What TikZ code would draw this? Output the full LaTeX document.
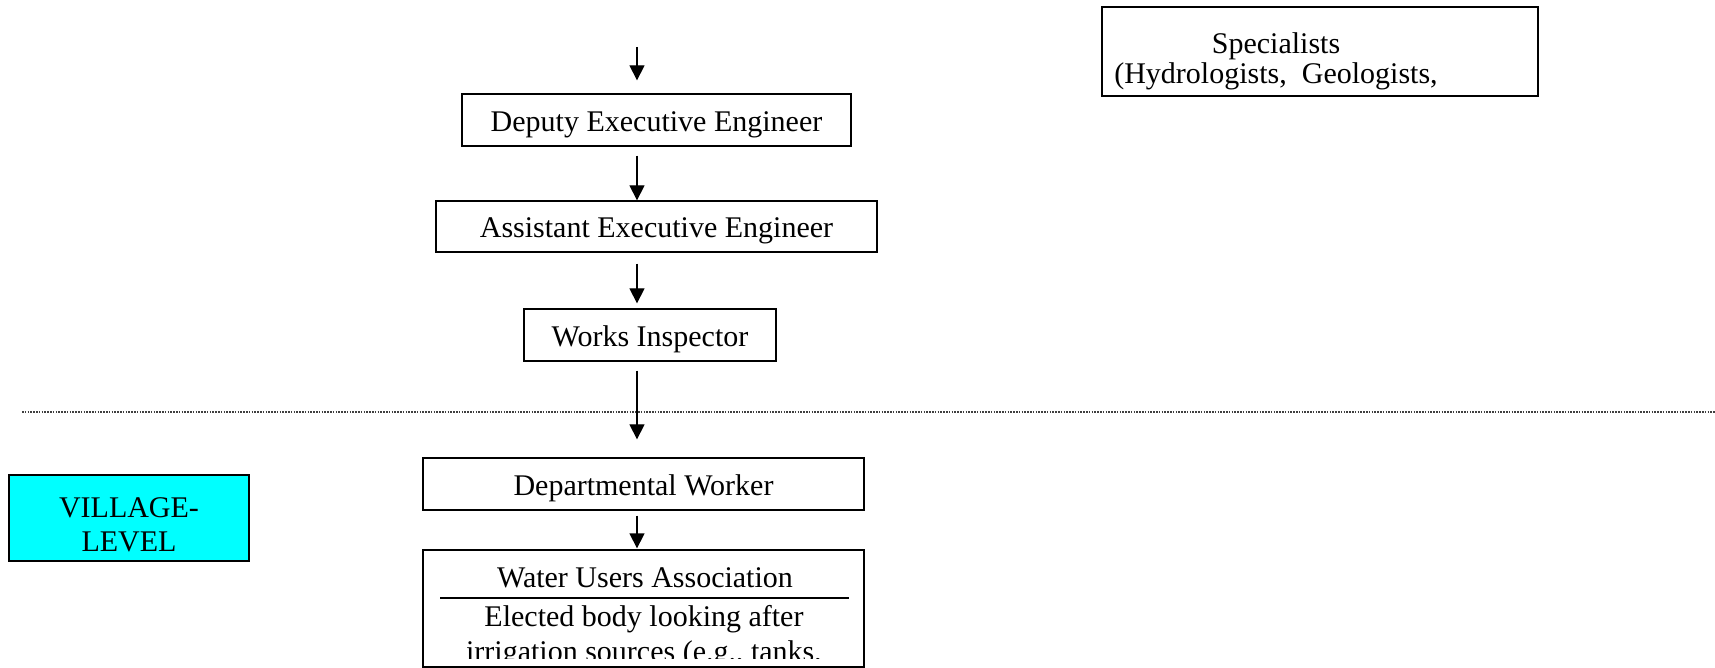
\documentclass[tikz,border=0pt]{standalone}
\usepackage{fontspec}
\setmainfont{Liberation Serif}
\usetikzlibrary{arrows.meta, positioning}
\definecolor{villagecyan}{RGB}{0,255,255}

\begin{document}
\begin{tikzpicture}[x=0.5pt, y=-0.5pt, >={Triangle[length=7.5pt,width=7.5pt]},
      every node/.style={font=\fontsize{15}{15}\selectfont},
      frame/.style={draw, line width=0.65pt, rectangle, inner sep=0pt},
      post/.style={frame, text height=12.5pt, text depth=1pt},
      lines/.style={align=center, anchor=north, inner sep=0pt},
      link/.style={->, line width=0.65pt}]
  \useasboundingbox (0,0) rectangle (1715,668);
  % chain of posts
  \node[post, minimum width=194.5pt, minimum height=26pt] (deputy) at (656.5,120) {Deputy Executive Engineer};
  \node[post, minimum width=220.5pt, minimum height=25.5pt] (assistant) at (656.5,226.5) {Assistant Executive Engineer};
  \node[post, minimum width=126pt, minimum height=26pt] (works) at (650,335) {Works Inspector};
  \node[post, minimum width=220.5pt, minimum height=26pt] (dept) at (643.5,484) {Departmental Worker};
  \node[frame, minimum width=220.5pt, minimum height=58.5pt] (wua) at (643.5,608.5) {};
  \node[anchor=base] (wuaTitle) at (645,587) {Water Users Association};
  \draw[line width=0.8pt] (440,598) -- (849,598);
  \begin{scope}
    \clip (wua.north west) rectangle ([yshift=4.5pt]wua.south east);
    \node[lines, font=\fontsize{15}{17.5}\selectfont] (wuaText) at (644,605) {Elected body looking after\\irrigation sources (e.g., tanks,};
  \end{scope}
  % side boxes
  \node[frame, minimum width=218pt, minimum height=44.5pt] (spec) at (1320,51.5) {};
  \node[lines] (specText) at (1276,32.5) {Specialists\\(Hydrologists,\ \ Geologists,};
  \node[frame, fill=villagecyan, minimum width=120pt, minimum height=43pt] (village) at (129,518) {};
  \node[lines, font=\fontsize{15}{17}\selectfont] (villageText) at (129,497) {VILLAGE-\\LEVEL};
  % level line
  \draw[black!75, line width=0.6pt, dash pattern=on 0.8pt off 0.6pt] (22,412) -- (1715,412);
  % arrows
  \coordinate (spine) at (637,47);
  \draw[link, shorten >=6.5pt] (spine) -- (spine |- deputy.north);
  \draw[link, shorten <=4.5pt] (spine |- deputy.south) -- (spine |- assistant.north);
  \draw[link, shorten <=5.5pt, shorten >=2.5pt] (spine |- assistant.south) -- (spine |- works.north);
  \draw[link, shorten <=4.5pt, shorten >=9pt] (spine |- works.south) -- (spine |- dept.north);
  \draw[link, shorten <=2.5pt, shorten >=0.5pt] (spine |- dept.south) -- (spine |- wua.north);
\end{tikzpicture}
\end{document}
